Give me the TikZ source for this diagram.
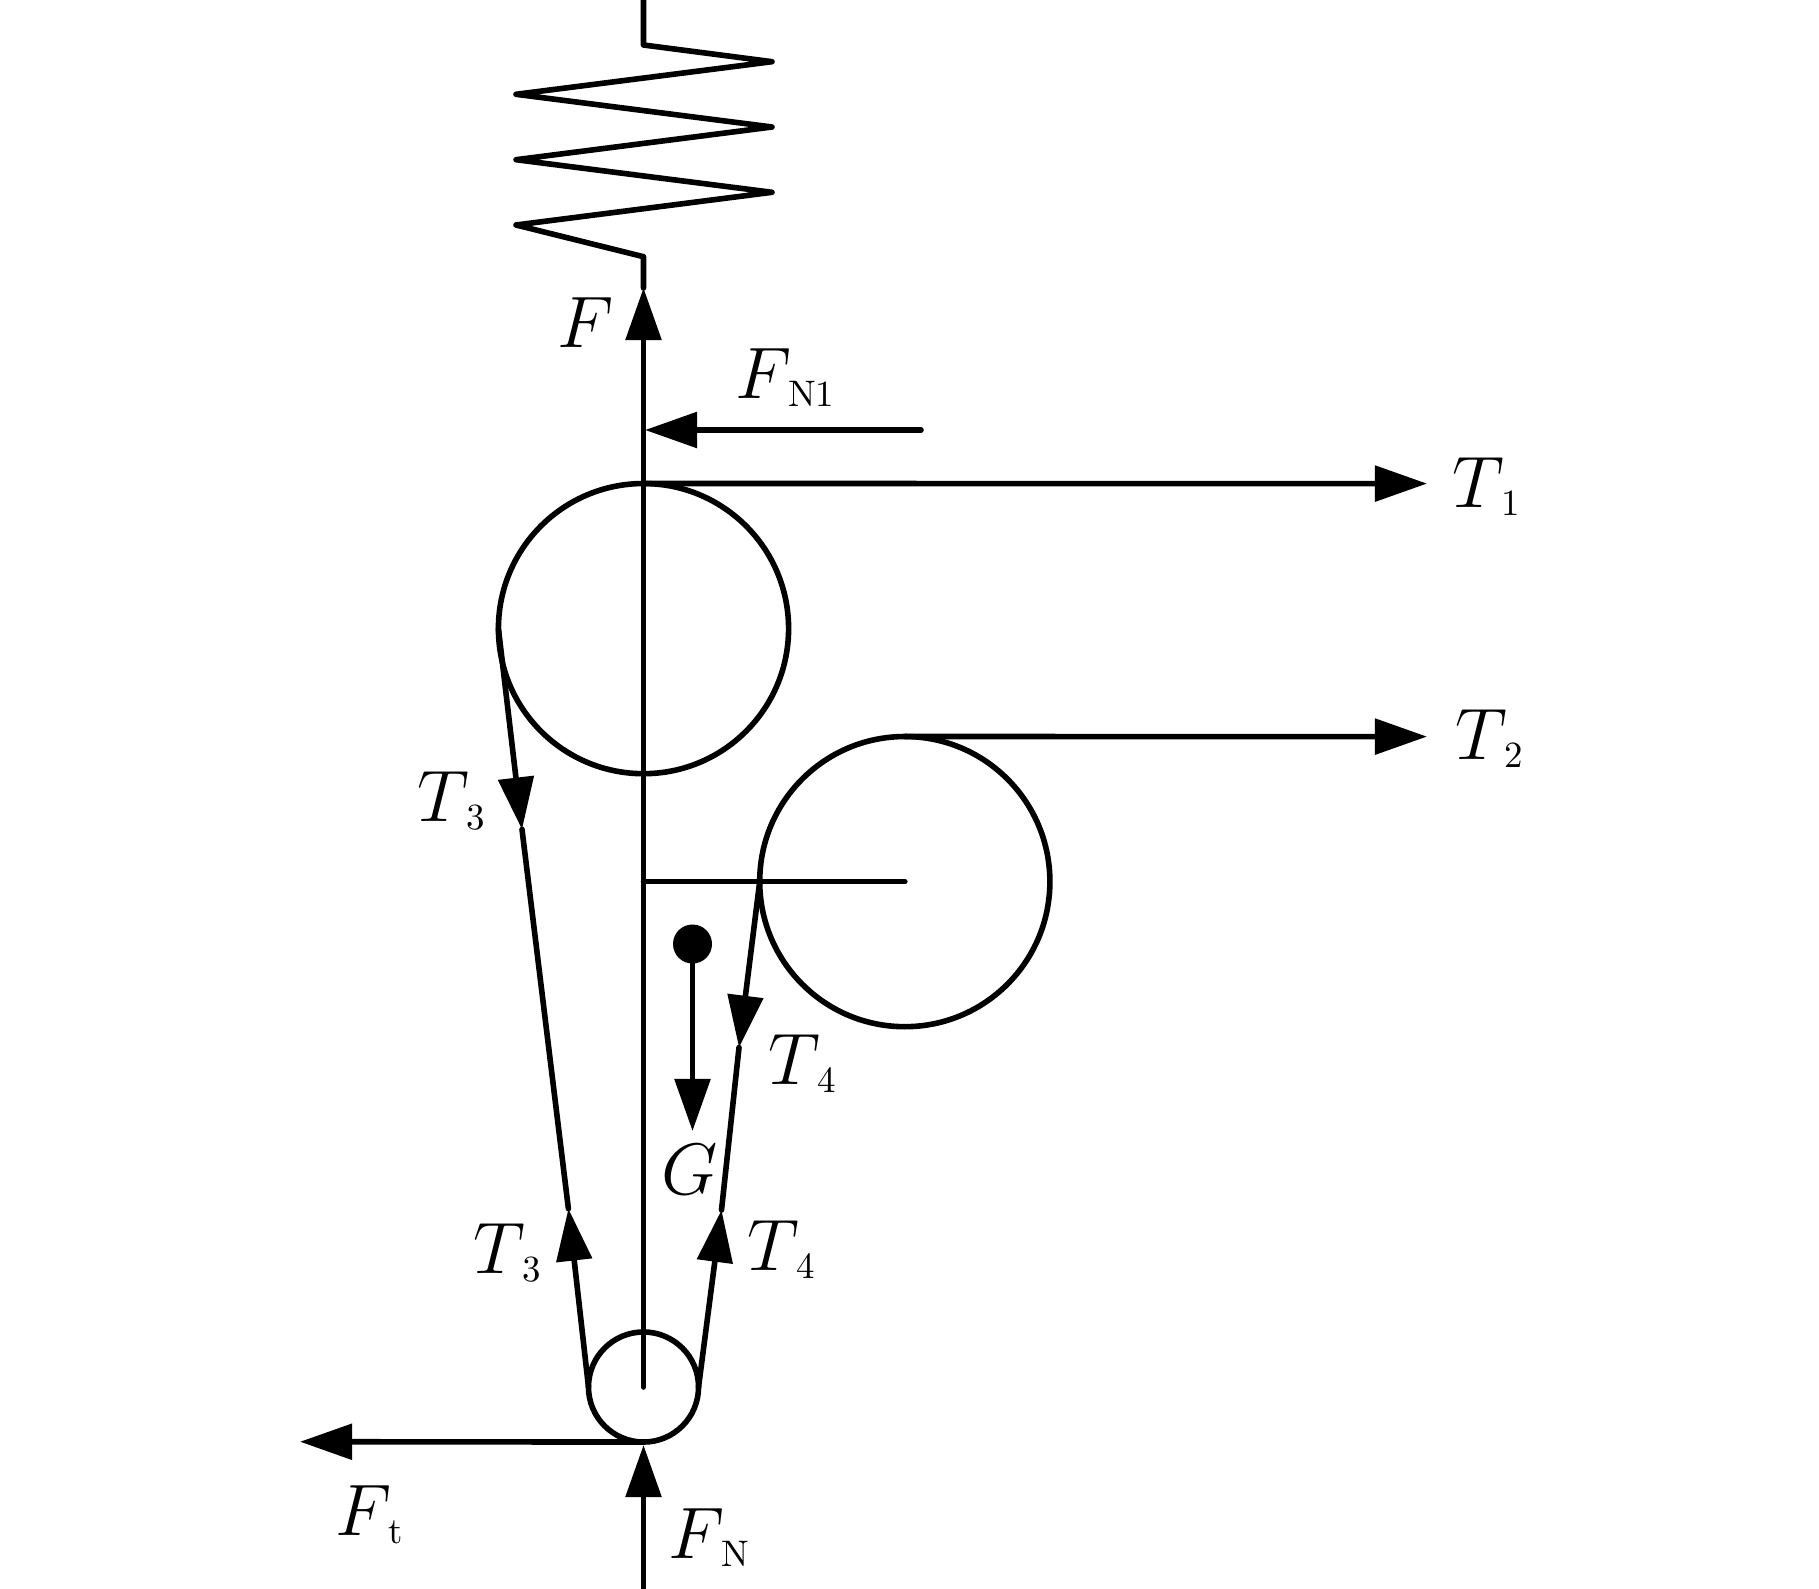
\documentclass[tikz,border=0pt]{standalone}
\usetikzlibrary{arrows.meta}
\newcommand{\mainsym}[1]{\fontsize{19.5}{23}\selectfont$#1$}
\newcommand{\sublab}[3][.53cm]{\makebox[#1][l]{\mainsym{#2}}\raisebox{-.08cm}{\fontsize{10.5}{12}\selectfont #3}}
\tikzset{
    wheel/.style={circle, draw, outer sep=0pt, inner sep=0pt},
    lab/.style={anchor=base west, inner sep=0pt, outer sep=0pt},
}
\begin{document}
\begin{tikzpicture}[>={Triangle[length=.52cm,width=.35cm]}, x=.01cm, y=-.01cm, line width=.056cm, line cap=round, line join=round]
\useasboundingbox (0,0) rectangle (1819,1588);

\node[wheel, minimum size=2.9cm] (wheelA) at (643.5,628.6){};
\node[wheel, minimum size=2.9cm] (wheelB) at (904.8,881.6){};
\node[wheel, minimum size=1.1cm] (wheelC) at (643.5,1387){};
\node[circle, fill, inner sep=0pt, minimum size=.39cm] (dot) at (692.5,944){};

\coordinate (top) at (643.5,0);
\coordinate (ground) at (643.5,1588);
\coordinate (tipF) at (643.5,288);
\coordinate (tipFN) at (643.5,1445);
\coordinate (tipFt) at (300,1441.7);
\coordinate (tailNA) at (921,430);
\coordinate (tipNA) at (645,430);
\coordinate (tipTA) at (1427,483.6);
\coordinate (tipTB) at (1427,736.6);
\coordinate (tipG) at (692.5,1131);
\coordinate (downL) at (522,829.4);
\coordinate (upL) at (568.4,1208.7);
\coordinate (downR) at (739,1047.5);
\coordinate (upR) at (721.5,1210);

% spring
\draw (top)--(643.5,45)--(772,61.7)--(516,94.3)--(772,127)--(516,159.7)--(772,192.3)--(516,225)--(643.5,256.7)--(tipF);

% frame
\draw (wheelC.center)--(wheelA.center);
\draw (wheelB.center)--(wheelB.center-|wheelA.center);

% forces
\draw[->] (wheelA.center)--(tipF);
\draw[->] (tailNA)--(tipNA);
\draw[->] (wheelA.north)--(tipTA);
\draw[->] (wheelB.north)--(tipTB);
\draw[->] (wheelC.south)--(tipFt);
\draw[->] (ground)--(tipFN);
\draw[->] (dot.center)--(tipG);

% belts
\draw[->] (wheelA.west)--(downL);
\draw (downL)--(upL);
\draw[->] (wheelC.west)--(upL);
\draw[->] (wheelB.west)--(downR);
\draw (downR)--(upR);
\draw[->] (wheelC.east)--(upR);

\node[lab] (labF) at (557,347){\mainsym{F}};
\node[lab] (labNA) at (735,398){\sublab{F}{N1}};
\node[lab] (labTA) at (1452,507){\sublab[.495cm]{T}{1}};
\node[lab] (labTB) at (1455,759){\sublab[.495cm]{T}{2}};
\node[lab] (labTC) at (417,821){\sublab[.495cm]{T}{3}};
\node[lab] (labTD) at (473,1273){\sublab[.495cm]{T}{3}};
\node[lab] (labTE) at (768,1084){\sublab[.495cm]{T}{4}};
\node[lab] (labTF) at (747,1270){\sublab[.495cm]{T}{4}};
\node[lab] (labG) at (661,1194){\mainsym{G}};
\node[lab] (labFt) at (335,1535){\sublab{F}{t}};
\node[lab] (labFN) at (668,1558){\sublab{F}{N}};
\end{tikzpicture}
\end{document}
